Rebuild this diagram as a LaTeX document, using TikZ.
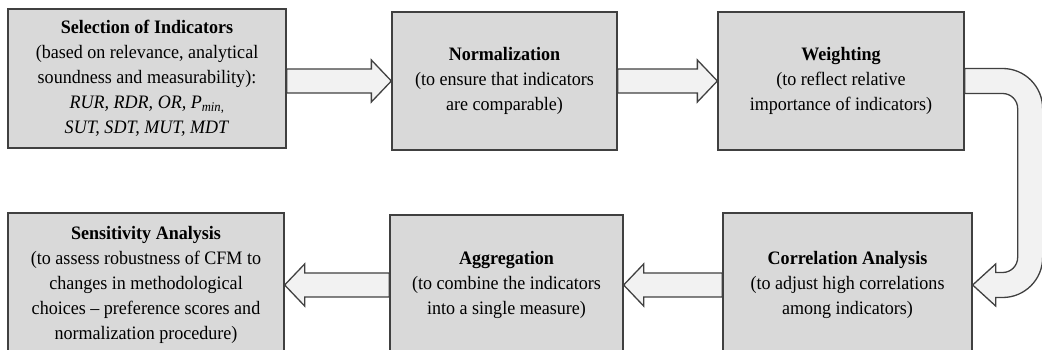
\documentclass[tikz,border=0pt]{standalone}
\usepackage{fontspec}
\setmainfont{Liberation Serif}[FakeStretch=0.95]
\usepackage{tikz}
\usetikzlibrary{positioning,calc}

\newcommand{\blockright}[2]{%
    \draw[blockarrow] ($(#1.east |- #2.west)+(0,12)$) -- ($(#2.west)+(-20,12)$)
        -- ($(#2.west)+(-20,21)$) -- (#2.west) -- ($(#2.west)+(-20,-21)$)
        -- ($(#2.west)+(-20,-12)$) -- ($(#1.east |- #2.west)+(0,-12)$) -- cycle;}
\newcommand{\blockleft}[2]{%
    \draw[blockarrow] ($(#1.west |- #2.east)+(0,12)$) -- ($(#2.east)+(20,12)$)
        -- ($(#2.east)+(20,21)$) -- (#2.east) -- ($(#2.east)+(20,-21)$)
        -- ($(#2.east)+(20,-12)$) -- ($(#1.west |- #2.east)+(0,-12)$) -- cycle;}

\begin{document}
\begin{tikzpicture}[x=1pt,y=1pt,
    stepbox/.style={draw=black!75,line width=1.3pt,fill=black!15,align=center,
        inner sep=0pt,font=\fontsize{19}{25}\selectfont},
    blockarrow/.style={draw=black!75,line width=1.3pt,fill=black!5,line join=miter}]
    \useasboundingbox (0,0) rectangle (1042,350);
    \clip (0,0) rectangle (1042,350);

    % === TOP ROW ===
    \node[stepbox,minimum width=278,minimum height=139] (sel) at (147,271.5)
        {\textbf{Selection of Indicators}\\(based on relevance,  analytical\\soundness and measurability):\\
         \textit{RUR, RDR, OR, P}\textsubscript{\textit{min},}\\\textit{SUT, SDT, MUT, MDT}};
    \node[stepbox,minimum width=225,minimum height=138] (norm) at (504.5,269)
        {\textbf{Normalization}\\(to ensure that indicators\\are comparable)};
    \node[stepbox,minimum width=246,minimum height=138] (weight) at (841,269)
        {\textbf{Weighting}\\(to reflect  relative\\importance of indicators)};

    % === BOTTOM ROW ===
    \node[stepbox,minimum width=249,minimum height=144] (corr) at (847.5,65)
        {\textbf{Correlation  Analysis}\\(to adjust high correlations\\among indicators)};
    \node[stepbox,minimum width=233,minimum height=140] (aggr) at (506.5,65)
        {\textbf{Aggregation}\\(to combine the indicators\\into a single measure)};
    \node[stepbox,minimum width=276,minimum height=144] (sens) at (146,65)
        {\textbf{Sensitivity Analysis}\\(to assess robustness of CFM to\\changes in methodological\\
         choices -- preference scores and\\normalization procedure)};

    % Flèches
    \blockright{sel}{norm}
    \blockright{norm}{weight}
    \blockleft{corr}{aggr}
    \blockleft{aggr}{sens}
    % U-turn from weighting down to correlation analysis
    \draw[blockarrow] ($(weight.east)+(0,12.5)$) -- ($(weight.east)+(38,12.5)$)
        arc (90:0:40) -- ($(corr.east)+(70,27.5)$)
        arc (0:-90:40) -- ($(corr.east)+(23,-12.5)$) -- ($(corr.east)+(23,-21)$)
        -- (corr.east) -- ($(corr.east)+(23,21)$) -- ($(corr.east)+(23,12.5)$)
        -- ($(corr.east)+(30,12.5)$) arc (-90:0:15)
        -- ($(weight.east)+(53,-27.5)$) arc (0:90:15) -- ($(weight.east)+(0,-12.5)$) -- cycle;
\end{tikzpicture}
\end{document}
